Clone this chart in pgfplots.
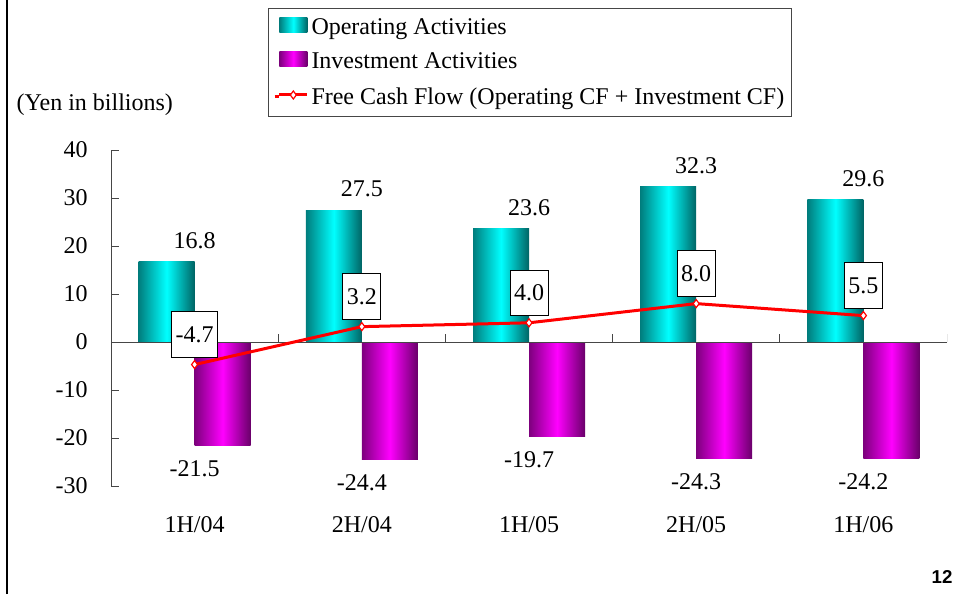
\documentclass[border=0pt]{standalone}
\usepackage{fontspec}
\setmainfont{Liberation Serif}
\setsansfont{Liberation Sans}
\usepackage{pgfplots}
\pgfplotsset{compat=1.18}

\definecolor{opdark}{RGB}{0,125,125}
\definecolor{opedge}{RGB}{0,100,100}
\definecolor{oplight}{RGB}{0,255,255}
\definecolor{invdark}{RGB}{125,0,125}
\definecolor{invedge}{RGB}{105,0,105}
\definecolor{invlight}{RGB}{255,0,255}
\definecolor{axisgray}{RGB}{70,70,70}

\pgfplotsset{
  valuelabel/.style={nodes near coords={\pgfmathprintnumber[fixed,fixed zerofill,precision=1]{\pgfplotspointmeta}}},
  opbar/.style={ybar, bar width=42pt, bar shift=-21pt, draw=none,
    left color=opdark, right color=opedge, middle color=oplight, valuelabel,
    every node near coord/.append style={text=black, anchor=south, yshift=6pt},
    legend image code/.code={\path (0pt,0pt) -- (3.5pt,0pt);
      \shade[left color=opdark, right color=opedge, middle color=oplight] (3.5pt,-3.5pt) rectangle (24.5pt,7.75pt);}},
  invbar/.style={ybar, bar width=42pt, bar shift=21pt, draw=none,
    left color=invdark, right color=invedge, middle color=invlight, valuelabel,
    every node near coord/.append style={text=black, anchor=north, yshift=-8pt},
    legend image code/.code={\path (0pt,0pt) -- (3.5pt,0pt);
      \shade[left color=invdark, right color=invedge, middle color=invlight] (3.5pt,-3.5pt) rectangle (24.5pt,7.75pt);}},
  fcfline/.style={red, line width=2.25pt, mark=diamond*, mark size=3pt,
    mark options={fill=white, draw=red, line width=0.9pt}, valuelabel,
    every node near coord/.append style={draw=black, line width=0.75pt, fill=white,
      text=black, anchor=center, yshift=22.5pt, inner xsep=3pt, inner ysep=0pt,
      minimum height=34pt},
    legend image code/.code={\path (0pt,0pt) -- (3.5pt,0pt);
      \draw[red, line width=2.25pt] (3.5pt,1.5pt) -- (24.5pt,1.5pt);
      \draw[red, fill=white, line width=0.9pt] plot[mark=diamond*, mark size=3pt] coordinates {(14pt,1.5pt)};}},
}

\begin{document}
\begin{tikzpicture}[font=\fontsize{18}{21}\selectfont]
\path[use as bounding box] (0pt,0pt) rectangle (720pt,445.5pt);
\draw[line width=1.9pt] (5.4pt,0pt) -- (5.4pt,445.5pt);
\begin{axis}[
  at={(83.25pt,81pt)}, anchor=south west,
  scale only axis, width=627pt, height=252pt,
  xmin=-0.5, xmax=4.5, ymin=-30, ymax=40,
  axis x line*=bottom, axis y line*=left,
  x axis line style={draw=none},
  y axis line style={axisgray, line width=0.75pt},
  xtick={0,...,4},
  xticklabels={1H/04,2H/04,1H/05,2H/05,1H/06},
  major x tick style={draw=none},
  ytick={-30,-20,...,40},
  tick align=inside, major tick length=6pt,
  major y tick style={axisgray, line width=0.75pt},
  /pgf/number format/assume math mode=true,
  tick label style={font=\fontsize{18}{21}\selectfont},
  yticklabel style={xshift=-14pt},
  xticklabel style={yshift=-19.5pt},
  legend cell align=left,
  legend style={at={(axis description cs:0.1878,1.4226)}, anchor=north west,
    draw=axisgray, line width=0.75pt, inner xsep=3.5pt, inner ysep=5.5pt,
    row sep=8.5pt, font=\fontsize{18}{21}\selectfont},
]
% operating activities (one plot per bar so each bar gets its own shading)
\addplot[opbar] coordinates {(0,16.8)};
\addlegendentry{Operating Activities}
\addplot[opbar, forget plot] coordinates {(1,27.5)};
\addplot[opbar, forget plot] coordinates {(2,23.6)};
\addplot[opbar, forget plot] coordinates {(3,32.3)};
\addplot[opbar, forget plot] coordinates {(4,29.6)};
% investment activities
\addplot[invbar] coordinates {(0,-21.5)};
\addlegendentry{Investment Activities}
\addplot[invbar, forget plot] coordinates {(1,-24.4)};
\addplot[invbar, forget plot] coordinates {(2,-19.7)};
\addplot[invbar, forget plot] coordinates {(3,-24.3)};
\addplot[invbar, forget plot] coordinates {(4,-24.2)};
% zero line with its category ticks
\draw[axisgray, line width=0.75pt] (axis cs:-0.5,0) -- (axis cs:4.5,0);
\draw[axisgray, line width=0.75pt] (axis cs:0.5,0) -- ++(0pt,6pt);
\draw[axisgray, line width=0.75pt] (axis cs:1.5,0) -- ++(0pt,6pt);
\draw[axisgray, line width=0.75pt] (axis cs:2.5,0) -- ++(0pt,6pt);
\draw[axisgray, line width=0.75pt] (axis cs:3.5,0) -- ++(0pt,6pt);
\draw[axisgray, line width=0.75pt] (axis cs:4.5,0) -- ++(0pt,6pt);
% free cash flow
\addplot[fcfline] coordinates {(0,-4.7) (1,3.2) (2,4.0) (3,8.0) (4,5.5)};
\addlegendentry{Free Cash Flow (Operating CF + Investment CF)}
\end{axis}
\node[anchor=west] at (9pt,366.75pt) {(Yen in billions)};
\node[font=\sffamily\bfseries\fontsize{14}{16}\selectfont] at (706.5pt,12.75pt) {12};
\end{tikzpicture}
\end{document}
